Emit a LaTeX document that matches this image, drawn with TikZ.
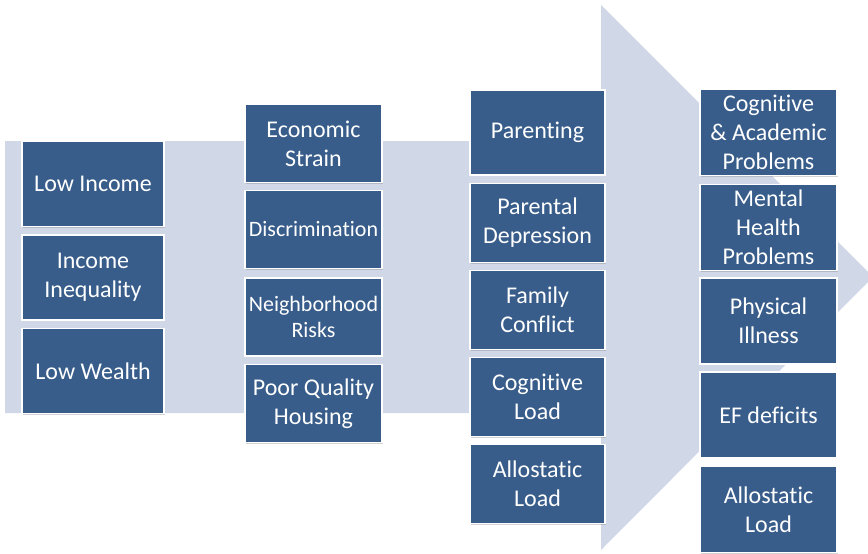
\documentclass[tikz,border=0pt]{standalone}
\usepackage{fontspec}
\setmainfont{Carlito}[Ligatures={NoCommon,NoContextual}]
\usetikzlibrary{shadows}
\definecolor{boxblue}{RGB}{56,93,138}
\definecolor{flowbg}{RGB}{208,216,232}

\begin{document}
\begin{tikzpicture}[x=1pt,y=-1pt,
  box/.style={fill=boxblue, draw=white, line width=1.6pt, text=white,
    align=center, inner sep=0pt, font=\fontsize{24}{29}\selectfont,
    drop shadow={shadow xshift=1.3pt, shadow yshift=-1.3pt, opacity=0.3, fill=black!55}},
  smalltext/.style={font=\fontsize{22}{26}\selectfont},
  colA/.style={box, minimum width=142pt, minimum height=85pt},
  colB/.style={box, minimum width=137pt, minimum height=78pt},
  colC/.style={box, minimum width=135pt, minimum height=79pt},
  colD/.style={box, minimum width=137pt, minimum height=86pt}
]
\useasboundingbox (0,0) rectangle (868,554);
\clip (0,0) rectangle (868,554);
\fill[white] (0,0) rectangle (868,554);

% flow band with the large arrow head
\fill[flowbg] (5,141) -- (601,141) -- (601,5) -- (873,277) -- (601,550)
  -- (601,413) -- (5,413) -- cycle;

% first column: economic conditions
\node[colA] (lowinc)  at (93,184)   {Low Income};
\node[colA] (ineq)    at (93,277.5) {Income\\Inequality};
\node[colA] (lowwlth) at (93,371)   {Low Wealth};

% second column: stressors
\node[colB] (strain)  at (313.5,143.5) {Economic\\Strain};
\node[colB,smalltext] (discr) at (313.5,229.5) {Discrimination};
\node[colB,smalltext] (neigh) at (313.5,317) {Neighborhood\\Risks};
\node[colB] (housing) at (313.5,403.5) {Poor Quality\\Housing};

% third column: family and physiological processes
\node[colC, minimum height=85pt] (parent) at (537.5,132.5) {Parenting};
\node[colC] (pardep)  at (537.5,223) {Parental\\Depression};
\node[colC] (conflict) at (537.5,310) {Family\\Conflict};
\node[colC] (cogload) at (537.5,397) {Cognitive\\Load};
\node[colC] (alloA)   at (537.5,484) {Allostatic\\Load};

% fourth column: child outcomes
\node[colD] (academic) at (768.5,132.5) {Cognitive\\\& Academic\\Problems};
\node[colD] (mental)   at (768.5,227.5) {Mental\\Health\\Problems};
\node[colD] (illness)  at (768.5,321)   {Physical\\Illness};
\node[colD] (efdef)    at (768.5,415)   {EF deficits};
\node[colD] (alloB)    at (768.5,509.5) {Allostatic\\Load};
\end{tikzpicture}
\end{document}
